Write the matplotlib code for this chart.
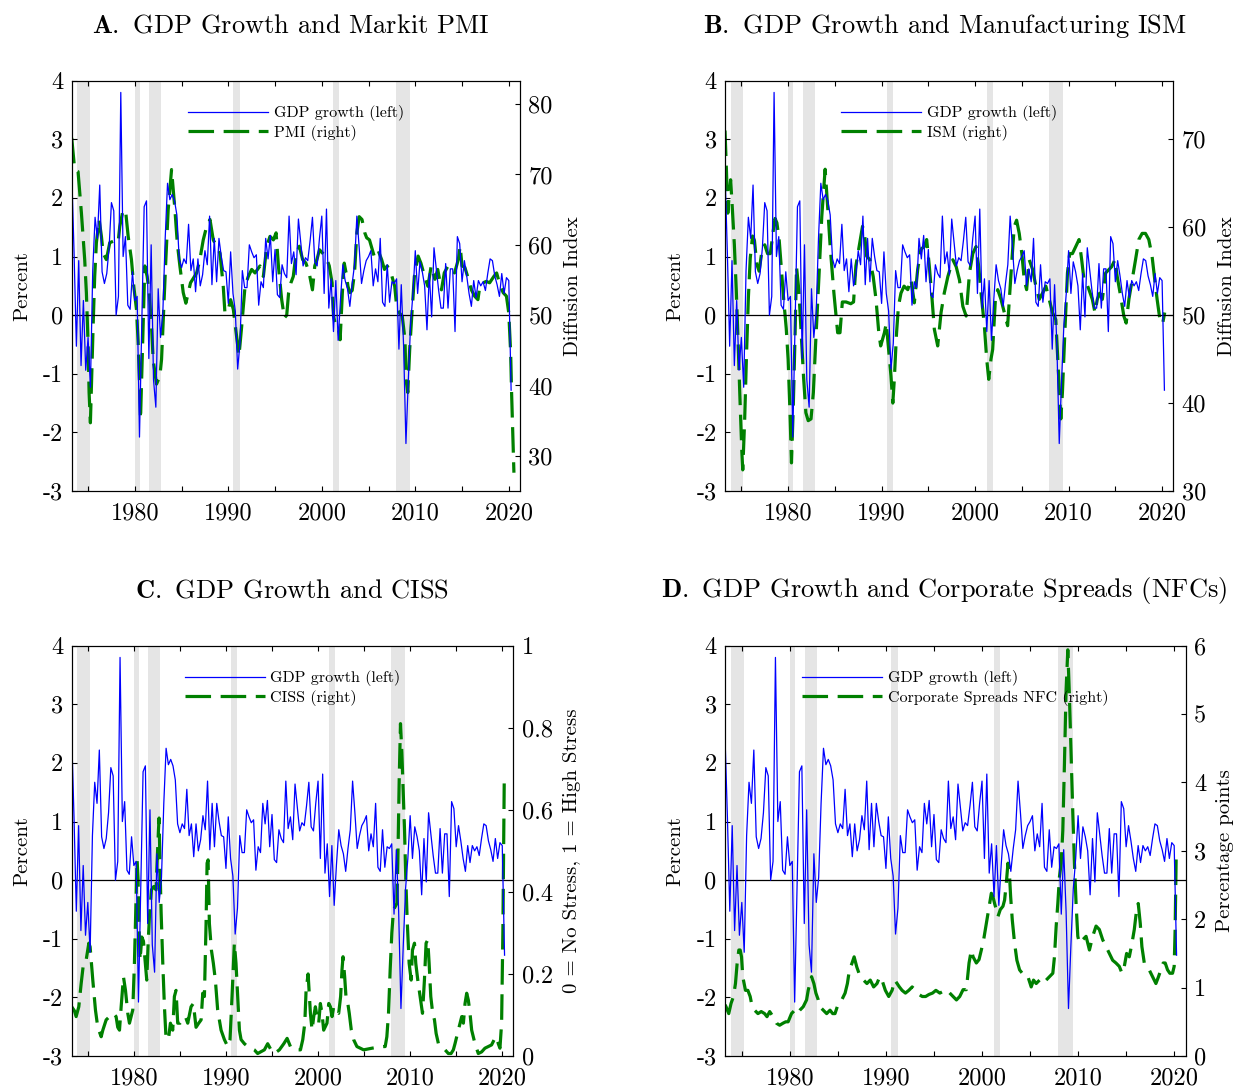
import numpy as np
import matplotlib
matplotlib.use("Agg")
import matplotlib.pyplot as plt

# Computer Modern look for all text
plt.rcParams['font.family'] = 'cmr10'
plt.rcParams['mathtext.fontset'] = 'cm'
plt.rcParams['axes.unicode_minus'] = False

# ---------------- data ----------------
# real GDP growth, quarterly percent change, 1973Q1 - 2020Q1
gdp_growth = [
    2.45, 1.08, -0.53, 0.93,   -0.86, 0.25, -0.94, -0.38,   -1.23, 0.76, 1.67, 1.31,
    2.22, 0.74, 0.54, 0.71,    1.15, 1.92, 1.78, 0.00,      0.32, 3.80, 1.00, 1.34,
    0.17, 0.10, 0.74, 0.25,    0.32, -2.08, -0.13, 1.85,    1.95, -0.74, 1.20, -1.10,
    -1.57, 0.45, -0.38, 0.05,  1.31, 2.25, 1.97, 2.06,      1.95, 1.71, 0.96, 0.81,
    0.96, 0.88, 1.55, 0.76,    0.96, 0.40, 0.96, 0.50,      0.69, 1.10, 0.86, 1.69,
    0.52, 1.31, 0.57, 1.31,    1.00, 0.76, 0.74, 0.20,      1.08, 0.37, 0.07, -0.92,
    -0.48, 0.76, 0.47, 0.47,   1.20, 1.08, 0.98, 1.03,      0.17, 0.57, 0.47, 1.31,
    0.96, 1.36, 0.57, 1.12,    0.35, 0.30, 0.86, 0.71,      0.64, 1.69, 0.88, 1.08,
    0.69, 1.64, 1.24, 0.84,    0.98, 0.93, 1.27, 1.67,      0.91, 0.84, 1.31, 1.69,
    0.37, 1.81, 0.12, 0.62,    -0.28, 0.59, -0.43, 0.27,    0.86, 0.59, 0.45, 0.15,
    0.54, 0.86, 1.69, 1.15,    0.54, 0.76, 0.93, 1.00,      1.10, 0.50, 0.79, 0.57,
    1.31, 0.22, 0.15, 0.86,    0.22, 0.57, 0.54, 0.62,      -0.58, 0.52, -0.53, -2.19,
    -1.12, -0.15, 0.37, 1.10,  0.37, 0.91, 0.74, 0.50,      -0.25, 0.71, -0.03, 1.15,
    0.79, 0.42, 0.12, 0.12,    0.88, 0.12, 0.79, 0.79,      -0.28, 1.34, 1.22, 0.57,
    0.93, 0.67, 0.37, 0.15,    0.59, 0.30, 0.59, 0.50,      0.57, 0.42, 0.71, 0.96,
    0.93, 0.67, 0.52, 0.32,    0.71, 0.37, 0.64, 0.59,      -1.28,
]
gdp_t = 1973.25 + 0.25 * np.arange(len(gdp_growth))

# NBER recessions (peak, trough) in decimal years
recessions = [(1973.85, 1975.2), (1980.0, 1980.55), (1981.55, 1982.85),
              (1990.55, 1991.22), (2001.22, 2001.88), (2007.95, 2009.45)]

pmi = [
    (1973.25, 75.2), (1973.57, 70.7), (1973.93, 70.4), (1974.11, 67.4), (1974.29, 64.5),
    (1974.46, 61.2), (1974.64, 57.9), (1974.82, 53.2), (1975.0, 46.1), (1975.11, 39.0),
    (1975.25, 34.7), (1975.36, 39.9), (1975.54, 48.4), (1975.71, 55.5), (1975.89, 60.3),
    (1976.18, 63.6), (1976.43, 61.2), (1976.61, 58.8), (1976.96, 57.9), (1977.32, 60.3),
    (1977.68, 60.5), (1978.21, 60.3), (1978.39, 62.6), (1978.75, 65.0), (1979.04, 64.5),
    (1979.29, 61.2), (1979.64, 57.9), (1979.89, 54.1), (1980.18, 50.8), (1980.36, 46.1),
    (1980.54, 39.0), (1980.61, 35.2), (1980.89, 48.4), (1981.07, 57.0), (1981.32, 55.5),
    (1981.54, 53.2), (1981.79, 48.4), (1981.96, 43.7), (1982.32, 40.2), (1982.68, 41.3),
    (1982.86, 43.7), (1983.04, 49.4), (1983.32, 57.9), (1983.57, 65.0), (1983.93, 70.7),
    (1984.29, 65.0), (1984.54, 60.3), (1984.82, 57.0), (1985.18, 53.2), (1985.46, 51.7),
    (1985.96, 54.6), (1986.61, 56.0), (1986.96, 57.9), (1987.32, 60.7), (1987.68, 62.6),
    (1988.04, 63.6), (1988.39, 60.7), (1988.75, 59.8), (1989.11, 58.8), (1989.46, 54.1),
    (1989.64, 50.3), (1990.0, 50.8), (1990.25, 52.2), (1990.54, 50.8), (1990.89, 47.0),
    (1991.14, 44.2), (1991.43, 48.4), (1991.79, 54.1), (1992.14, 55.5), (1992.5, 56.5),
    (1992.86, 56.0), (1993.39, 57.0), (1993.75, 55.5), (1994.11, 59.8), (1994.46, 61.2),
    (1994.82, 60.7), (1995.11, 61.7), (1995.36, 57.0), (1995.71, 52.2), (1996.0, 49.6),
    (1996.25, 50.0), (1996.45, 53.2), (1996.7, 54.6), (1996.95, 55.5), (1997.25, 58.8),
    (1997.6, 59.8), (1997.95, 57.9), (1998.3, 57.4), (1998.65, 56.0), (1999.0, 53.6),
    (1999.25, 57.0), (1999.5, 58.0), (1999.75, 59.3), (2000.1, 58.8), (2000.45, 58.3),
    (2000.8, 57.0), (2001.1, 54.6), (2001.25, 49.9), (2001.5, 48.4), (2001.8, 48.0),
    (2001.96, 46.5), (2002.2, 53.2), (2002.4, 57.4), (2002.6, 56.0), (2002.8, 54.1),
    (2003.0, 53.2), (2003.25, 53.5), (2003.5, 56.0), (2003.75, 61.7), (2004.0, 64.0),
    (2004.3, 63.6), (2004.6, 61.7), (2004.8, 61.0), (2005.1, 60.7), (2005.3, 59.8),
    (2005.6, 58.4), (2006.0, 59.3), (2006.4, 57.9), (2006.7, 56.5), (2007.0, 57.0),
    (2007.4, 56.0), (2007.8, 54.1), (2008.0, 51.3), (2008.3, 50.3), (2008.6, 49.9),
    (2008.9, 46.5), (2009.0, 40.9), (2009.2, 39.0), (2009.4, 45.1), (2009.6, 49.4),
    (2009.9, 55.5), (2010.3, 58.4), (2010.6, 57.4), (2011.0, 55.5), (2011.35, 54.1),
    (2011.7, 57.0), (2012.1, 55.1), (2012.4, 56.5), (2012.8, 53.6), (2013.1, 56.0),
    (2013.5, 57.0), (2013.85, 56.5), (2014.2, 56.0), (2014.6, 57.9), (2014.8, 59.8),
    (2015.0, 57.0), (2015.3, 56.8), (2015.6, 55.5), (2016.0, 53.6), (2016.35, 52.7),
    (2016.7, 52.2), (2016.9, 54.1), (2017.25, 54.6), (2017.6, 54.8), (2017.95, 54.6),
    (2018.4, 55.5), (2018.7, 56.0), (2019.1, 54.1), (2019.4, 53.2), (2019.75, 52.7),
    (2020.0, 50.3), (2020.2, 44.7), (2020.3, 39.0), (2020.45, 31.9), (2020.55, 27.6),
]

ism = [
    (1973.25, 71.0), (1973.4, 66.6), (1973.55, 61.6), (1973.85, 65.4), (1974.0, 62.8),
    (1974.25, 58.0), (1974.45, 53.0), (1974.65, 47.0), (1974.85, 40.5), (1975.05, 34.5),
    (1975.15, 32.4), (1975.35, 38.0), (1975.55, 45.5), (1975.75, 52.0), (1975.95, 56.5),
    (1976.2, 59.0), (1976.4, 58.5), (1976.65, 55.8), (1976.9, 55.0), (1977.2, 57.3),
    (1977.5, 58.0), (1977.8, 57.0), (1978.1, 57.0), (1978.4, 59.5), (1978.6, 61.0),
    (1978.8, 60.5), (1979.05, 58.5), (1979.3, 55.0), (1979.55, 51.5), (1979.8, 48.5),
    (1980.0, 45.0), (1980.2, 39.0), (1980.36, 33.2), (1980.55, 39.5), (1980.75, 48.0),
    (1980.9, 55.5), (1981.15, 52.8), (1981.4, 48.0), (1981.65, 43.0), (1981.9, 38.9),
    (1982.15, 38.0), (1982.45, 38.2), (1982.7, 41.2), (1982.95, 46.9), (1983.3, 54.4),
    (1983.6, 61.2), (1983.96, 66.6), (1984.25, 62.0), (1984.5, 57.8), (1984.9, 52.5),
    (1985.3, 48.0), (1985.55, 48.0), (1985.8, 51.5), (1986.2, 51.5), (1986.7, 51.3),
    (1987.0, 51.5), (1987.25, 55.6), (1987.6, 57.8), (1987.96, 60.1), (1988.2, 59.0),
    (1988.4, 56.7), (1988.75, 56.3), (1989.1, 54.4), (1989.4, 51.8), (1989.7, 48.0),
    (1989.9, 46.5), (1990.3, 48.0), (1990.5, 49.1), (1990.75, 46.1), (1991.0, 43.1),
    (1991.2, 40.0), (1991.36, 42.7), (1991.6, 48.0), (1991.8, 51.0), (1992.07, 52.5),
    (1992.4, 53.3), (1992.8, 52.9), (1993.14, 54.1), (1993.5, 51.4), (1993.86, 55.2),
    (1994.2, 57.5), (1994.57, 57.8), (1994.82, 58.6), (1995.1, 55.6), (1995.4, 51.8),
    (1995.64, 48.4), (1996.0, 46.5), (1996.36, 50.3), (1996.7, 52.5), (1997.09, 54.4),
    (1997.62, 56.3), (1997.98, 55.5), (1998.33, 54.0), (1998.69, 51.0), (1999.04, 49.9),
    (1999.4, 54.8), (1999.75, 57.0), (2000.1, 57.8), (2000.39, 55.5), (2000.64, 52.5),
    (2000.99, 48.8), (2001.24, 45.0), (2001.46, 42.7), (2001.7, 45.0), (2001.88, 46.1),
    (2002.17, 51.8), (2002.42, 52.9), (2002.77, 51.8), (2003.13, 50.3), (2003.48, 48.8),
    (2003.66, 51.8), (2003.94, 56.3), (2004.19, 60.1), (2004.44, 60.8), (2004.72, 59.3),
    (2005.0, 57.0), (2005.26, 54.0), (2005.51, 52.9), (2005.79, 56.3), (2006.15, 55.2),
    (2006.5, 53.3), (2006.86, 51.8), (2007.21, 52.5), (2007.57, 53.3), (2007.92, 51.8),
    (2008.28, 50.3), (2008.63, 49.5), (2008.81, 45.7), (2008.99, 42.0), (2009.17, 38.2),
    (2009.34, 41.2), (2009.63, 48.8), (2009.88, 54.8), (2010.12, 57.0), (2010.41, 57.0),
    (2010.76, 57.8), (2011.12, 58.6), (2011.4, 56.3), (2011.65, 54.0), (2011.9, 53.7),
    (2012.18, 52.9), (2012.54, 51.8), (2012.82, 50.3), (2013.07, 51.8), (2013.32, 52.5),
    (2013.61, 51.8), (2013.96, 54.8), (2014.32, 55.2), (2014.6, 55.5), (2014.96, 56.3),
    (2015.2, 54.4), (2015.56, 52.2), (2015.91, 49.9), (2016.16, 49.1), (2016.45, 51.8),
    (2016.8, 54.0), (2017.16, 56.3), (2017.51, 58.6), (2017.87, 59.3), (2018.22, 59.3),
    (2018.58, 58.6), (2018.93, 56.7), (2019.22, 54.0), (2019.47, 51.8), (2019.82, 49.1),
    (2020.07, 49.1), (2020.28, 50.3),
]

ciss = [
    (1973.25, 0.12), (1973.55, 0.11), (1973.73, 0.096), (1974.02, 0.12), (1974.28, 0.177),
    (1974.53, 0.226), (1974.82, 0.234), (1975.11, 0.275), (1975.25, 0.266), (1975.54, 0.185),
    (1975.83, 0.112), (1976.08, 0.07), (1976.45, 0.047), (1976.63, 0.063), (1976.99, 0.088),
    (1977.35, 0.096), (1977.78, 0.104), (1978.07, 0.096), (1978.25, 0.07), (1978.44, 0.063),
    (1978.62, 0.12), (1978.87, 0.193), (1979.09, 0.16), (1979.34, 0.104), (1979.52, 0.08),
    (1979.7, 0.096), (1979.88, 0.112), (1980.06, 0.226), (1980.24, 0.388), (1980.35, 0.478),
    (1980.46, 0.429), (1980.53, 0.33), (1980.68, 0.234), (1980.86, 0.29), (1981.04, 0.28),
    (1981.22, 0.234), (1981.4, 0.185), (1981.55, 0.275), (1981.69, 0.34), (1981.91, 0.405),
    (1982.16, 0.413), (1982.41, 0.405), (1982.52, 0.47), (1982.67, 0.55), (1982.74, 0.58),
    (1982.85, 0.45), (1982.96, 0.35), (1983.14, 0.226), (1983.32, 0.12), (1983.5, 0.04),
    (1983.79, 0.047), (1983.97, 0.08), (1984.22, 0.063), (1984.4, 0.145), (1984.58, 0.16),
    (1984.76, 0.08), (1985.02, 0.08), (1985.31, 0.088), (1985.6, 0.096), (1985.85, 0.08),
    (1986.21, 0.12), (1986.46, 0.128), (1986.75, 0.07), (1987.04, 0.08), (1987.3, 0.088),
    (1987.48, 0.153), (1987.66, 0.145), (1987.84, 0.323), (1987.95, 0.47), (1988.06, 0.478),
    (1988.2, 0.323), (1988.42, 0.258), (1988.63, 0.226), (1988.85, 0.185), (1989.1, 0.112),
    (1989.47, 0.063), (1989.83, 0.04), (1990.19, 0.023), (1990.44, 0.04), (1990.66, 0.145),
    (1990.91, 0.275), (1991.09, 0.226), (1991.27, 0.145), (1991.46, 0.063), (1991.64, 0.04),
    (1992.0, 0.03), (1992.36, 0.023), (1993.08, 0.015), (1993.44, 0.006), (1994.17, 0.015),
    (1994.53, 0.03), (1994.89, 0.015), (1995.25, 0.006), (1995.8, 0.015), (1996.28, 0.03),
    (1996.64, 0.043), (1997.0, 0.023), (1997.36, 0.015), (1998.09, 0.015), (1998.34, 0.04),
    (1998.56, 0.08), (1998.7, 0.16), (1998.92, 0.2), (1999.17, 0.104), (1999.35, 0.063),
    (1999.53, 0.096), (1999.71, 0.12), (1999.89, 0.096), (2000.07, 0.08), (2000.25, 0.128),
    (2000.43, 0.104), (2000.61, 0.063), (2000.97, 0.08), (2001.16, 0.128), (2001.34, 0.12),
    (2001.52, 0.096), (2001.7, 0.12), (2001.88, 0.112), (2002.24, 0.104), (2002.45, 0.145),
    (2002.6, 0.21), (2002.71, 0.242), (2002.89, 0.193), (2003.03, 0.145), (2003.18, 0.136),
    (2003.39, 0.104), (2003.61, 0.063), (2003.86, 0.04), (2004.22, 0.023), (2004.95, 0.015),
    (2005.85, 0.019), (2006.93, 0.023), (2007.29, 0.023), (2007.47, 0.047), (2007.65, 0.104),
    (2007.83, 0.21), (2008.01, 0.3), (2008.19, 0.356), (2008.38, 0.364), (2008.56, 0.372),
    (2008.66, 0.47), (2008.81, 0.673), (2008.95, 0.81), (2009.1, 0.74), (2009.24, 0.65),
    (2009.39, 0.55), (2009.53, 0.43), (2009.68, 0.33), (2009.89, 0.226), (2010.11, 0.185),
    (2010.25, 0.258), (2010.47, 0.275), (2010.61, 0.226), (2010.83, 0.185), (2011.08, 0.145),
    (2011.34, 0.104), (2011.55, 0.185), (2011.73, 0.275), (2011.91, 0.283), (2012.06, 0.226),
    (2012.24, 0.145), (2012.45, 0.104), (2012.64, 0.088), (2012.82, 0.055), (2013.07, 0.03),
    (2013.43, 0.023), (2013.79, 0.015), (2014.15, 0.006), (2014.44, 0.006), (2014.69, 0.015),
    (2014.87, 0.03), (2015.05, 0.047), (2015.23, 0.063), (2015.42, 0.08), (2015.6, 0.096),
    (2015.78, 0.08), (2015.96, 0.128), (2016.14, 0.153), (2016.32, 0.136), (2016.5, 0.104),
    (2016.68, 0.063), (2017.04, 0.03), (2017.4, 0.006), (2017.76, 0.01), (2018.12, 0.019),
    (2018.48, 0.023), (2018.84, 0.027), (2019.13, 0.04), (2019.39, 0.047), (2019.57, 0.03),
    (2019.75, 0.019), (2019.93, 0.08), (2020.07, 0.307), (2020.14, 0.47), (2020.22, 0.68),
]

spreads = [
    (1973.25, 0.75), (1973.36, 0.72), (1973.64, 0.62), (1973.88, 0.77), (1974.13, 0.87),
    (1974.34, 1.06), (1974.51, 1.35), (1974.69, 1.55), (1974.83, 1.55), (1974.97, 1.45),
    (1975.1, 1.16), (1975.38, 0.96), (1975.63, 0.96), (1975.87, 0.87), (1976.08, 0.72),
    (1976.33, 0.67), (1976.68, 0.62), (1977.02, 0.65), (1977.37, 0.62), (1977.62, 0.575),
    (1977.9, 0.65), (1978.25, 0.575), (1978.6, 0.48), (1978.94, 0.45), (1979.29, 0.48),
    (1979.57, 0.5), (1979.82, 0.5), (1980.17, 0.62), (1980.51, 0.67), (1980.76, 0.62),
    (1981.04, 0.67), (1981.39, 0.72), (1981.74, 0.82), (1981.91, 0.96), (1982.09, 1.06),
    (1982.26, 1.16), (1982.5, 1.06), (1982.71, 0.92), (1982.96, 0.82), (1983.13, 0.72),
    (1983.48, 0.67), (1983.83, 0.62), (1984.18, 0.67), (1984.46, 0.62), (1984.7, 0.62),
    (1985.05, 0.77), (1985.4, 0.82), (1985.75, 0.92), (1985.99, 1.06), (1986.2, 1.26),
    (1986.45, 1.35), (1986.69, 1.45), (1986.97, 1.3), (1987.32, 1.16), (1987.67, 1.11),
    (1988.02, 1.06), (1988.37, 1.11), (1988.72, 1.01), (1989.07, 1.06), (1989.35, 1.16),
    (1989.59, 1.11), (1989.94, 0.96), (1990.29, 0.87), (1990.64, 0.96), (1990.92, 1.11),
    (1991.16, 1.06), (1991.4, 1.01), (1991.68, 0.96), (1992.03, 0.92), (1992.38, 0.96),
    (1992.73, 1.01), (1993.08, 0.96), (1993.43, 0.9), (1993.78, 0.87), (1994.13, 0.87),
    (1994.48, 0.9), (1994.85, 0.92), (1995.2, 0.96), (1995.61, 0.92), (1996.3, 0.97),
    (1996.64, 0.92), (1996.99, 0.87), (1997.34, 0.82), (1997.68, 0.87), (1998.03, 0.97),
    (1998.37, 0.97), (1998.65, 1.36), (1998.89, 1.55), (1999.07, 1.45), (1999.41, 1.36),
    (1999.69, 1.41), (1999.93, 1.55), (2000.17, 1.7), (2000.45, 1.94), (2000.69, 2.14),
    (2000.97, 2.38), (2001.14, 2.33), (2001.31, 2.23), (2001.49, 2.14), (2001.66, 2.04),
    (2001.9, 2.14), (2002.18, 2.19), (2002.35, 2.28), (2002.53, 2.53), (2002.7, 2.82),
    (2002.87, 2.62), (2002.98, 2.33), (2003.15, 1.99), (2003.39, 1.65), (2003.63, 1.4),
    (2003.91, 1.26), (2004.19, 1.21), (2004.43, 1.16), (2004.78, 1.16), (2005.12, 1.01),
    (2005.36, 1.11), (2005.64, 1.06), (2005.99, 1.11), (2006.33, 1.06), (2006.68, 1.11),
    (2007.02, 1.16), (2007.37, 1.21), (2007.54, 1.45), (2007.72, 1.9), (2007.89, 2.23),
    (2008.06, 2.62), (2008.24, 2.82), (2008.41, 3.3), (2008.58, 4.28), (2008.75, 5.35),
    (2008.93, 5.94), (2009.1, 5.25), (2009.27, 4.43), (2009.45, 3.55), (2009.62, 2.82),
    (2009.79, 2.23), (2009.97, 1.75), (2010.14, 1.65), (2010.48, 1.7), (2010.83, 1.75),
    (2011.18, 1.55), (2011.52, 1.75), (2011.87, 1.9), (2012.21, 1.85), (2012.56, 1.7),
    (2012.91, 1.6), (2013.25, 1.5), (2013.6, 1.4), (2013.94, 1.36), (2014.29, 1.31),
    (2014.57, 1.21), (2014.81, 1.31), (2015.05, 1.5), (2015.33, 1.45), (2015.61, 1.65),
    (2015.85, 1.85), (2016.09, 2.14), (2016.26, 2.23), (2016.47, 1.94), (2016.64, 1.6),
    (2016.89, 1.36), (2017.13, 1.31), (2017.4, 1.26), (2017.75, 1.16), (2018.1, 1.06),
    (2018.37, 1.16), (2018.62, 1.26), (2018.86, 1.36), (2019.07, 1.36), (2019.31, 1.26),
    (2019.55, 1.21), (2019.83, 1.21), (2020.0, 1.31), (2020.1, 1.85), (2020.21, 2.92),
]

# ---------------- figure ----------------
W, H = 1235, 1090
fig = plt.figure(figsize=(W / 100, H / 100), dpi=100)


def px_rect(l, t, r, b):
    return [l / W, 1 - b / H, (r - l) / W, (b - t) / H]


def draw_panel(rect, series, ylim2, ticks2, ticklabels2, name2):
    ax = fig.add_axes(rect)
    ax2 = ax.twinx()
    ax.set_zorder(2)
    ax2.set_zorder(1)
    ax.patch.set_visible(False)

    for a, b in recessions:
        ax2.axvspan(a, b, color='#e5e5e5', lw=0, zorder=0)
    t2, v2 = np.array(series).T
    g_line, = ax2.plot(t2, v2, color='#008000', lw=2.3, ls=(0, (8, 3)))

    ax.axhline(0, color='k', lw=0.9)
    b_line, = ax.plot(gdp_t, gdp_growth, color='#0000ff', lw=0.9)

    ax.set_xlim(1973.25, 2021.2)
    ax.set_ylim(-3, 4)
    ax.set_yticks(range(-3, 5))
    xt = np.arange(1975, 2021, 5)
    ax.set_xticks(xt)
    ax.set_xticklabels([str(y) if y % 10 == 0 else '' for y in xt])
    ax2.set_ylim(*ylim2)
    ax2.set_yticks(ticks2)
    ax2.set_yticklabels(ticklabels2)

    ax.tick_params(axis='both', direction='in', length=3.6, width=0.8,
                   labelsize=17.5, colors='k')
    ax.tick_params(axis='x', top=True, pad=8)
    ax.tick_params(axis='y', right=False, pad=6)
    ax2.tick_params(axis='y', direction='in', length=3.6, width=0.8,
                    labelsize=17.5, right=True, left=False, pad=6)
    for a in (ax, ax2):
        for s in a.spines.values():
            s.set_linewidth(0.8)
            s.set_color('k')

    ax.legend([b_line, g_line], ['GDP growth (left)', name2],
              loc='upper center', bbox_to_anchor=(0.5, 0.94),
              frameon=False, fontsize=11.5, handlelength=5.0,
              handletextpad=0.35, labelspacing=0.2,
              borderpad=0, borderaxespad=0)
    return ax, ax2


draw_panel(px_rect(71.7, 80.7, 520, 491), pmi, (25, 83.333),
           range(30, 81, 10), [str(v) for v in range(30, 81, 10)], 'PMI (right)')
draw_panel(px_rect(725, 80.7, 1173.3, 491), ism, (30, 76.667),
           range(30, 71, 10), [str(v) for v in range(30, 71, 10)], 'ISM (right)')
draw_panel(px_rect(71.7, 645.7, 513.3, 1056), ciss, (0, 1),
           [0, 0.2, 0.4, 0.6, 0.8, 1], ['0', '0.2', '0.4', '0.6', '0.8', '1'],
           'CISS (right)')
draw_panel(px_rect(725, 645.7, 1185.7, 1056), spreads, (0, 6),
           range(0, 7), [str(v) for v in range(0, 7)],
           'Corporate Spreads NFC (right)')

# panel titles
titles = [(291, 26, r'$\mathbf{A.}$ GDP Growth and Markit PMI'),
          (944.5, 26, r'$\mathbf{B.}$ GDP Growth and Manufacturing ISM'),
          (291.5, 591, r'$\mathbf{C.}$ GDP Growth and CISS'),
          (944, 591, r'$\mathbf{D.}$ GDP Growth and Corporate Spreads (NFCs)')]
for x, y, s in titles:
    fig.text(x / W, 1 - y / H, s, ha='center', va='center', fontsize=19)

# axis labels
ylabels = [(22, 286, 'Percent'), (675, 286, 'Percent'),
           (22, 851, 'Percent'), (675, 851, 'Percent'),
           (573, 286, 'Diffusion Index'), (1227, 286, 'Diffusion Index'),
           (572, 851, '0 = No Stress, 1 = High Stress'),
           (1225, 851, 'Percentage points')]
for x, y, s in ylabels:
    fig.text(x / W, 1 - y / H, s, rotation=90, ha='center', va='center', fontsize=15)

fig.savefig('out.png', dpi=100, facecolor='white')
